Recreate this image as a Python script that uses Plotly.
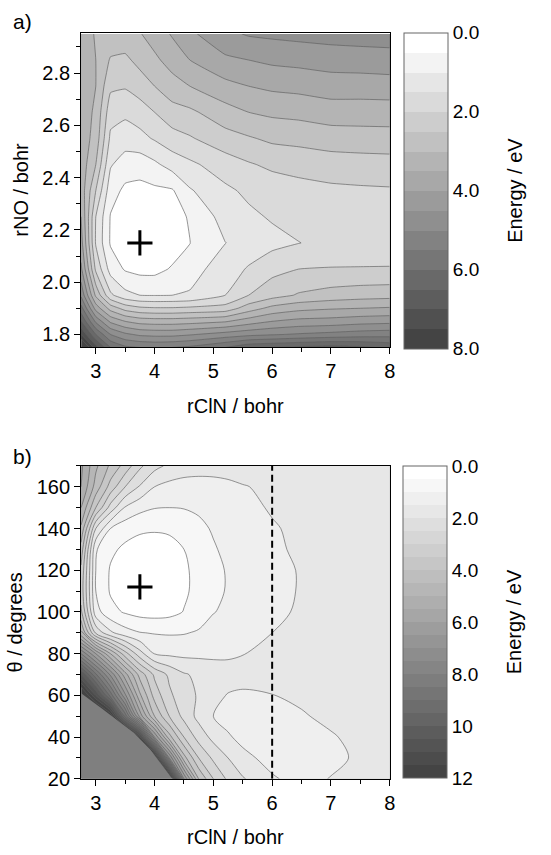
import plotly.graph_objects as go

# ---------------- Panel a) data : rClN (x) vs rNO (y), energy in eV ----------------
rcln_a = [2.75, 3.0, 3.25, 3.5, 3.75, 4.0, 4.3, 4.6, 5.2, 5.6, 6.0, 6.45, 7.0, 7.5, 8.0]
rno_a = [1.75, 1.8, 1.85, 1.9, 1.95, 2.05, 2.15, 2.25, 2.35, 2.45, 2.55, 2.65, 2.75, 2.85, 2.95]
energy_a = [
    [9.0, 7.2, 6.0, 5.6, 5.5, 5.45, 5.5, 5.6, 6.0, 6.4, 6.5, 6.6, 6.7, 6.6, 6.4],
    [7.5, 6.0, 5.0, 4.6, 4.4, 4.35, 4.35, 4.45, 4.7, 4.85, 4.95, 5.05, 5.15, 5.25, 5.3],
    [6.5, 4.9, 3.9, 3.5, 3.3, 3.25, 3.25, 3.3, 3.45, 3.75, 4.0, 4.15, 4.2, 4.3, 4.35],
    [5.7, 3.8, 2.8, 2.3, 2.1, 2.05, 2.05, 2.1, 2.2, 2.75, 3.15, 3.35, 3.45, 3.5, 3.55],
    [4.9, 2.9, 1.6, 1.15, 1.0, 0.98, 1.0, 1.05, 1.5, 2.0, 2.3, 2.55, 2.7, 2.78, 2.82],
    [4.1, 1.9, 0.8, 0.45, 0.35, 0.35, 0.55, 0.8, 1.25, 1.55, 1.85, 2.0, 2.03, 2.03, 2.03],
    [3.7, 1.45, 0.45, 0.2, 0.05, 0.1, 0.25, 0.49, 0.99, 1.2, 1.35, 1.49, 1.62, 1.7, 1.75],
    [3.5, 1.5, 0.47, 0.25, 0.15, 0.2, 0.3, 0.55, 1.2, 1.4, 1.55, 1.65, 1.72, 1.76, 1.78],
    [3.3, 2.0, 0.7, 0.4, 0.35, 0.4, 0.45, 0.95, 1.4, 1.6, 1.72, 1.82, 1.9, 1.93, 1.95],
    [3.3, 2.5, 1.05, 0.75, 0.72, 0.9, 1.2, 1.4, 1.75, 1.95, 2.1, 2.18, 2.25, 2.28, 2.3],
    [3.3, 2.8, 1.4, 1.25, 1.35, 1.55, 1.8, 1.95, 2.3, 2.45, 2.6, 2.65, 2.75, 2.78, 2.8],
    [3.3, 2.9, 1.7, 1.6, 1.75, 2.0, 2.3, 2.4, 2.8, 3.0, 3.1, 3.15, 3.25, 3.25, 3.25],
    [3.3, 3.0, 2.1, 2.05, 2.25, 2.5, 2.8, 3.0, 3.35, 3.5, 3.6, 3.65, 3.75, 3.75, 3.78],
    [3.3, 3.0, 2.45, 2.4, 2.65, 2.9, 3.2, 3.5, 3.9, 4.0, 4.1, 4.15, 4.22, 4.25, 4.28],
    [3.3, 2.95, 2.85, 2.8, 2.97, 3.22, 3.55, 3.9, 4.38, 4.55, 4.6, 4.65, 4.7, 4.73, 4.75],
]
min_a = (3.75, 2.15)

# ---------------- Panel b) data : rClN (x) vs theta (y) ----------------
rcln_b = [2.75, 3.0, 3.25, 3.5, 3.75, 4.0, 4.25, 4.5, 4.75, 5.0, 5.25, 5.5, 6.0, 6.5, 7.0, 7.5, 8.0]
theta_b = [20, 30, 40, 50, 60, 70, 80, 90, 100, 110, 120, 130, 140, 150, 160, 170]
energy_b = [
    [15, 15, 15, 15, 15, 15, 13.5, 6.5, 4.0, 3.0, 2.4, 2.05, 1.55, 1.35, 1.52, 1.7, 1.78],
    [15, 15, 15, 15, 15, 13, 7.0, 4.2, 3.0, 2.4, 2.0, 1.62, 1.35, 1.25, 1.38, 1.58, 1.75],
    [15, 15, 15, 14, 11.5, 6.5, 4.2, 3.0, 2.3, 1.85, 1.55, 1.38, 1.25, 1.3, 1.45, 1.65, 1.78],
    [15, 14, 12.5, 8.8, 5.8, 4.0, 3.0, 2.35, 1.85, 1.5, 1.35, 1.3, 1.3, 1.45, 1.62, 1.74, 1.8],
    [13, 11.0, 8.8, 6.6, 4.6, 3.3, 2.6, 2.2, 1.95, 1.6, 1.48, 1.45, 1.49, 1.6, 1.72, 1.77, 1.8],
    [10.5, 8.6, 6.9, 5.2, 3.8, 2.9, 2.4, 2.05, 1.9, 1.75, 1.65, 1.62, 1.63, 1.7, 1.75, 1.78, 1.8],
    [7.5, 6.0, 4.5, 3.2, 2.2, 1.48, 1.4, 1.37, 1.38, 1.4, 1.44, 1.49, 1.58, 1.68, 1.75, 1.78, 1.8],
    [4.6, 2.4, 1.6, 1.2, 1.02, 0.97, 0.95, 0.97, 1.05, 1.2, 1.3, 1.38, 1.5, 1.62, 1.72, 1.77, 1.8],
    [3.6, 1.2, 0.65, 0.45, 0.33, 0.3, 0.35, 0.52, 0.75, 0.98, 1.1, 1.22, 1.4, 1.56, 1.7, 1.76, 1.8],
    [3.3, 1.0, 0.45, 0.18, 0.05, 0.08, 0.18, 0.42, 0.65, 0.85, 1.05, 1.2, 1.38, 1.53, 1.68, 1.75, 1.8],
    [3.4, 1.0, 0.45, 0.2, 0.1, 0.1, 0.18, 0.42, 0.65, 0.85, 1.05, 1.2, 1.38, 1.53, 1.68, 1.75, 1.8],
    [3.8, 1.05, 0.6, 0.4, 0.3, 0.28, 0.33, 0.5, 0.75, 0.95, 1.12, 1.25, 1.42, 1.58, 1.7, 1.76, 1.8],
    [4.4, 2.0, 1.0, 0.7, 0.58, 0.55, 0.58, 0.7, 0.88, 1.05, 1.18, 1.28, 1.45, 1.62, 1.72, 1.77, 1.8],
    [5.0, 3.5, 2.3, 1.45, 1.15, 1.02, 1.0, 1.02, 1.08, 1.15, 1.25, 1.35, 1.55, 1.68, 1.74, 1.78, 1.8],
    [5.5, 4.3, 3.3, 2.5, 1.95, 1.5, 1.35, 1.3, 1.3, 1.32, 1.38, 1.47, 1.6, 1.7, 1.75, 1.78, 1.8],
    [5.6, 4.6, 3.9, 3.3, 2.6, 2.15, 1.9, 1.75, 1.7, 1.7, 1.72, 1.74, 1.76, 1.78, 1.8, 1.8, 1.8],
]
min_b = (3.75, 112)
# boundary of the region without data (lower-left corner of panel b)
cut_x = [2.75, 3.09, 3.65, 3.93, 4.3]
cut_theta = [61, 54, 42, 34, 20]
dashed_rcln = 6.0

ticks_a_cb = [0.0, 2.0, 4.0, 6.0, 8.0]
ticks_b_cb = [0.0, 2.0, 4.0, 6.0, 8.0, 10, 12]
STEP = 0.5

FONT = "Liberation Sans, Arial, sans-serif"
W, H = 551, 855
LINE_COL = "#5e5e5e"
DARK, LIGHT = 68, 255

def neg(rows):
    return [[-v for v in r] for r in rows]

def cscale(nb):
    # smooth scale used by the filled contour bands (band centres land on the gray steps)
    return [[0, "#444444"], [1.0 / nb, "#444444"], [(nb - 1.0) / nb, "#ffffff"], [1, "#ffffff"]]

def stepped(nbands):
    out = []
    for j in range(nbands):
        g = round(DARK + j * (LIGHT - DARK) / (nbands - 1))
        c = "rgb(%d,%d,%d)" % (g, g, g)
        out.append([j / nbands, c])
        out.append([(j + 1) / nbands, c])
    return out

def cb_labels(vals):
    return [("%.1f" % v) if v < 10 else ("%d" % v) for v in vals]

def colorbar(xpx, ytop, ybot, vals):
    return dict(x=xpx / W, xanchor="left", xpad=0, y=1 - (ytop + ybot) / 2 / H, yanchor="middle",
                len=(ybot - ytop) / H, lenmode="fraction", ypad=0, thickness=44, thicknessmode="pixels",
                outlinewidth=1, outlinecolor="#666", ticks="",
                tickvals=[-v for v in vals], ticktext=cb_labels(vals),
                tickfont=dict(family=FONT, size=19, color="black"))

fig = go.Figure()

panels = [
    (rcln_a, rno_a, energy_a, "x", "y", ticks_a_cb, 17, 0.35, colorbar(408, 33, 353, ticks_a_cb)),
    (rcln_b, theta_b, energy_b, "x2", "y2", ticks_b_cb, 25, 0.9, colorbar(407, 472, 788, ticks_b_cb)),
]
for xs, ys, zs, xa, ya, cbt, nb, sm, cb in panels:
    emax = cbt[-1]
    # filled bands
    fig.add_trace(go.Contour(
        x=xs, y=ys, z=neg(zs), xaxis=xa, yaxis=ya, showscale=False,
        contours=dict(start=-emax, end=0, size=STEP, coloring="fill", showlines=False),
        line=dict(width=0, smoothing=sm), colorscale=cscale(nb), hoverinfo="skip"))
    # contour lines
    fig.add_trace(go.Contour(
        x=xs, y=ys, z=neg(zs), xaxis=xa, yaxis=ya, showscale=False,
        contours=dict(start=-emax, end=0, size=STEP, coloring="lines", showlines=True),
        line=dict(width=0.65, smoothing=sm), colorscale=[[0, LINE_COL], [1, LINE_COL]], hoverinfo="skip"))
    # stepped colour bar spanning exactly 0 .. emax
    nbands = int(round(emax / STEP))
    fig.add_trace(go.Scatter(
        x=[None], y=[None], xaxis=xa, yaxis=ya, mode="markers", hoverinfo="skip", showlegend=False,
        marker=dict(color=[-emax], cmin=-emax, cmax=0, colorscale=stepped(nbands), showscale=True, colorbar=cb)))

# region without data in panel b
fig.add_trace(go.Scatter(
    x=cut_x + [rcln_b[0], rcln_b[0]], y=cut_theta + [theta_b[0], cut_theta[0]],
    xaxis="x2", yaxis="y2", mode="lines", fill="toself", fillcolor="#7f7f7f",
    line=dict(width=0, color="#7f7f7f"), hoverinfo="skip", showlegend=False))

# minima markers
for (mx, my), xa, ya in [(min_a, "x", "y"), (min_b, "x2", "y2")]:
    fig.add_trace(go.Scatter(x=[mx], y=[my], xaxis=xa, yaxis=ya, mode="markers",
                             marker=dict(symbol="cross-thin", size=18, line=dict(width=3, color="black")),
                             hoverinfo="skip", showlegend=False))

fig.add_shape(type="line", xref="x2", yref="y2", x0=dashed_rcln, x1=dashed_rcln,
              y0=theta_b[0], y1=theta_b[-1], line=dict(color="black", width=2, dash="7px,4px"))

dom_x = [82 / W, 394 / W]
dom_ya = [1 - 352 / H, 1 - 33 / H]
dom_yb = [1 - 789 / H, 1 - 472 / H]
TF = dict(family=FONT, size=20, color="black")

def xax(domain, anchor, title, overl=None):
    d = dict(domain=domain, anchor=anchor, range=[2.75, 8], tickvals=[3, 4, 5, 6, 7, 8],
             showgrid=False, zeroline=False, showline=True, linecolor="black", linewidth=1,
             tickcolor="black", tickwidth=1)
    if overl is None:
        d.update(ticks="outside", ticklen=6, mirror=True,
                 minor=dict(ticks="outside", ticklen=4, tickvals=[3.5 + i for i in range(5)], tickcolor="black"),
                 tickfont=TF, title=dict(text=title, font=TF, standoff=17))
    else:
        d.update(overlaying=overl, side="top", ticks="inside", ticklen=6, showticklabels=False,
                 minor=dict(ticks="inside", ticklen=4, tickvals=[3.5 + i for i in range(5)], tickcolor="black"))
    return d

def yax(domain, anchor, rng, major, minor, title, overl=None, fmt=None):
    d = dict(domain=domain, anchor=anchor, range=rng, tickvals=major,
             showgrid=False, zeroline=False, showline=True, linecolor="black", linewidth=1,
             tickcolor="black", tickwidth=1)
    if overl is None:
        d.update(ticks="outside", ticklen=6, mirror=True,
                 minor=dict(ticks="outside", ticklen=4, tickvals=minor, tickcolor="black"),
                 tickfont=TF, title=dict(text=title, font=TF, standoff=8))
        if fmt:
            d.update(tickformat=fmt)
    else:
        d.update(overlaying=overl, side="right", ticks="inside", ticklen=6, showticklabels=False,
                 minor=dict(ticks="inside", ticklen=4, tickvals=minor, tickcolor="black"))
    return d

ya_major = [1.8, 2.0, 2.2, 2.4, 2.6, 2.8]
ya_minor = [1.9, 2.1, 2.3, 2.5, 2.7, 2.9]
yb_major = [20, 40, 60, 80, 100, 120, 140, 160]
yb_minor = [30, 50, 70, 90, 110, 130, 150, 170]

def ann(text, xpx, ypx, **kw):
    d = dict(text=text, x=xpx / W, y=1 - ypx / H, xref="paper", yref="paper", showarrow=False,
             font=dict(family=FONT, size=kw.pop("size", 20), color="black"))
    d.update(kw)
    return d

fig.update_layout(
    width=W, height=H, margin=dict(l=0, r=0, t=0, b=0),
    paper_bgcolor="white", plot_bgcolor="white", showlegend=False,
    font=dict(family=FONT, color="black"),
    xaxis=xax(dom_x, "y", "rClN / bohr"),
    yaxis=yax(dom_ya, "x", [1.75, 2.955], ya_major, ya_minor, "rNO / bohr", fmt=".1f"),
    xaxis2=xax(dom_x, "y2", "rClN / bohr"),
    yaxis2=yax(dom_yb, "x2", [20, 170], yb_major, yb_minor, "θ / degrees"),
    xaxis3=xax(dom_x, "y", None, overl="x"),
    yaxis3=yax(dom_ya, "x", [1.75, 2.955], ya_major, ya_minor, None, overl="y"),
    xaxis4=xax(dom_x, "y2", None, overl="x2"),
    yaxis4=yax(dom_yb, "x2", [20, 170], yb_major, yb_minor, None, overl="y2"),
    annotations=[
        ann("a)", 11, 8, xanchor="left", yanchor="top", size=21),
        ann("b)", 11, 449, xanchor="left", yanchor="top", size=21),
        ann("Energy / eV", 520, 193, textangle=-90, xanchor="center", yanchor="middle"),
        ann("Energy / eV", 520, 630, textangle=-90, xanchor="center", yanchor="middle"),
    ],
)

fig.write_html("out.html")
